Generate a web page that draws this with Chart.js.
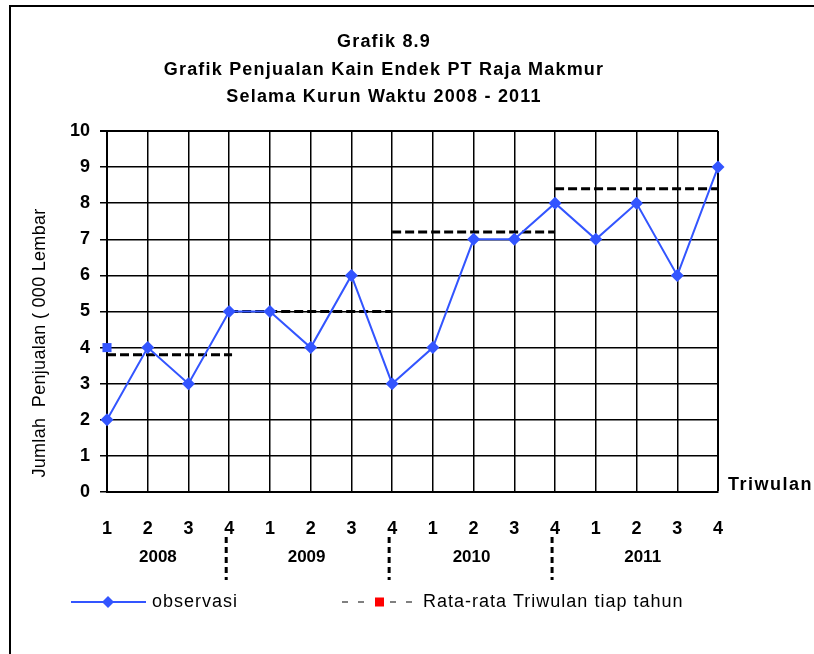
<!DOCTYPE html>
<html>
<head>
<meta charset="utf-8">
<title>Grafik 8.9</title>
<script src="https://cdn.jsdelivr.net/npm/chart.js@4/dist/chart.umd.min.js"></script>
<style>
  html, body { margin: 0; padding: 0; background: #fff; }
  #wrap { width: 814px; height: 654px; }
</style>
</head>
<body>
<div id="wrap"><canvas id="grafik" width="814" height="654"></canvas></div>
<script>
// data penjualan per triwulan (ribuan lembar)
const tahun = ['2008', '2009', '2010', '2011'];
const triwulan = ['1', '2', '3', '4', '1', '2', '3', '4', '1', '2', '3', '4', '1', '2', '3', '4'];
const observasi = [2, 4, 3, 5, 5, 4, 6, 3, 4, 7, 7, 8, 7, 8, 6, 9];
const rataRata = [3.8, 5.0, 7.2, 8.4];
const rataMulai = [1, 4, 8, 12];
const rataSelesai = [4.07, 8, 12, 16];
const titikAwal = 4;
const yTicks = [0, 1, 2, 3, 4, 5, 6, 7, 8, 9, 10];

const FONT = "'Liberation Sans', Arial, sans-serif";
const BIRU = '#3355ff';

// posisi label tahun di bawah sumbu (dalam satuan triwulan)
const labelTahunDi = [2.25, 5.9, 9.95, 14.15];

const garisRata = rataRata.map((v, i) => ({
    label: 'Rata-rata ' + tahun[i],
    data: [{ x: rataMulai[i], y: v }, { x: rataSelesai[i], y: v }],
    borderColor: '#000',
    borderWidth: 3,
    borderDash: [9, 4],
    pointRadius: 0,
    fill: false,
    clip: false,
    order: 2
}));

const dekorasi = {
    id: 'dekorasi',
    afterDraw(chart) {
        const ctx = chart.ctx;
        const xs = chart.scales.x;
        ctx.save();

        // bingkai
        ctx.strokeStyle = '#000';
        ctx.lineWidth = 2;
        ctx.beginPath();
        ctx.moveTo(10, 654);
        ctx.lineTo(10, 6);
        ctx.lineTo(814, 6);
        ctx.stroke();

        // judul
        ctx.fillStyle = '#000';
        ctx.textAlign = 'center';
        ctx.textBaseline = 'middle';
        ctx.font = 'bold 18px ' + FONT;
        ctx.letterSpacing = '1.2px';
        ctx.fillText('Grafik 8.9', 384, 42);
        ctx.fillText('Grafik Penjualan Kain Endek PT Raja Makmur', 384, 70);
        ctx.fillText('Selama Kurun Waktu 2008 - 2011', 384, 97);

        // judul sumbu y
        ctx.save();
        ctx.translate(40, 343);
        ctx.rotate(-Math.PI / 2);
        ctx.font = '18px ' + FONT;
        ctx.letterSpacing = '0.3px';
        ctx.fillText('Jumlah  Penjualan ( 000 Lembar', 0, 0);
        ctx.restore();

        // judul sumbu x
        ctx.textAlign = 'left';
        ctx.font = 'bold 18px ' + FONT;
        ctx.letterSpacing = '1.5px';
        ctx.fillText('Triwulan', xs.right + 10, 485);

        // label tahun
        ctx.textAlign = 'center';
        ctx.font = 'bold 17px ' + FONT;
        ctx.letterSpacing = '0px';
        tahun.forEach((t, i) => {
            ctx.fillText(t, xs.getPixelForValue(labelTahunDi[i]), 557);
        });

        // pemisah antar tahun
        ctx.lineWidth = 3;
        ctx.setLineDash([6, 4]);
        [4, 8, 12].forEach(q => {
            const px = xs.getPixelForValue(q) - 3;
            ctx.beginPath();
            ctx.moveTo(px, 537);
            ctx.lineTo(px, 580);
            ctx.stroke();
        });
        ctx.setLineDash([]);

        // legenda
        const ly = 602;
        ctx.strokeStyle = BIRU;
        ctx.lineWidth = 2;
        ctx.beginPath();
        ctx.moveTo(71, ly);
        ctx.lineTo(146, ly);
        ctx.stroke();
        ctx.fillStyle = BIRU;
        ctx.beginPath();
        ctx.moveTo(108, ly - 6);
        ctx.lineTo(114, ly);
        ctx.lineTo(108, ly + 6);
        ctx.lineTo(102, ly);
        ctx.closePath();
        ctx.fill();

        ctx.strokeStyle = '#808080';
        ctx.setLineDash([6, 10]);
        ctx.beginPath();
        ctx.moveTo(342, ly);
        ctx.lineTo(420, ly);
        ctx.stroke();
        ctx.setLineDash([]);
        ctx.fillStyle = '#fff';
        ctx.fillRect(371, ly - 6, 17, 12);
        ctx.fillStyle = '#ff0000';
        ctx.fillRect(375, ly - 4.5, 9, 9);

        ctx.fillStyle = '#000';
        ctx.textAlign = 'left';
        ctx.font = '18px ' + FONT;
        ctx.letterSpacing = '1px';
        ctx.fillText('observasi', 152, ly);
        ctx.fillText('Rata-rata Triwulan tiap tahun', 423, ly);

        ctx.restore();
    }
};

new Chart(document.getElementById('grafik'), {
    type: 'line',
    data: {
        datasets: [
            {
                label: 'observasi',
                data: observasi.map((v, i) => ({ x: i + 1, y: v })),
                borderColor: BIRU,
                backgroundColor: BIRU,
                borderWidth: 2,
                pointStyle: 'rectRot',
                pointRadius: 6.5,
                pointBackgroundColor: BIRU,
                pointBorderColor: BIRU,
                pointBorderWidth: 0,
                fill: false,
                clip: false,
                tension: 0,
                order: 1
            },
            {
                label: 'awal',
                data: [{ x: 1, y: titikAwal }],
                pointStyle: 'rect',
                pointRadius: 6.4,
                pointBackgroundColor: BIRU,
                pointBorderWidth: 0,
                showLine: false,
                clip: false,
                order: 0
            },
            ...garisRata
        ]
    },
    options: {
        responsive: false,
        animation: false,
        events: [],
        layout: {
            padding: { left: 0, right: 96, top: 131, bottom: 102 }
        },
        plugins: {
            legend: { display: false },
            title: { display: false },
            tooltip: { enabled: false }
        },
        scales: {
            x: {
                type: 'linear',
                min: 1,
                max: 16,
                afterFit: s => { s.height = 60; },
                afterBuildTicks: s => { s.ticks = triwulan.map((_, i) => ({ value: i + 1 })); },
                ticks: {
                    autoSkip: false,
                    maxRotation: 0,
                    padding: 26,
                    color: '#000',
                    font: { family: FONT, size: 18, weight: 'bold' },
                    callback: (v) => triwulan[v - 1]
                },
                grid: {
                    color: '#000',
                    lineWidth: c => (c.index === triwulan.length - 1 ? 2 : 1.5),
                    drawTicks: false
                },
                border: { color: '#000', width: 2 }
            },
            y: {
                min: 0,
                max: 10,
                afterFit: s => { s.width = 107; },
                afterBuildTicks: s => { s.ticks = yTicks.map(v => ({ value: v })); },
                ticks: {
                    padding: 10,
                    color: '#000',
                    font: { family: FONT, size: 18, weight: 'bold' }
                },
                grid: {
                    color: '#000',
                    lineWidth: c => (c.tick && c.tick.value === 10 ? 2 : 1.5),
                    tickLength: 7
                },
                border: { color: '#000', width: 2 }
            }
        }
    },
    plugins: [dekorasi]
});
</script>
</body>
</html>
